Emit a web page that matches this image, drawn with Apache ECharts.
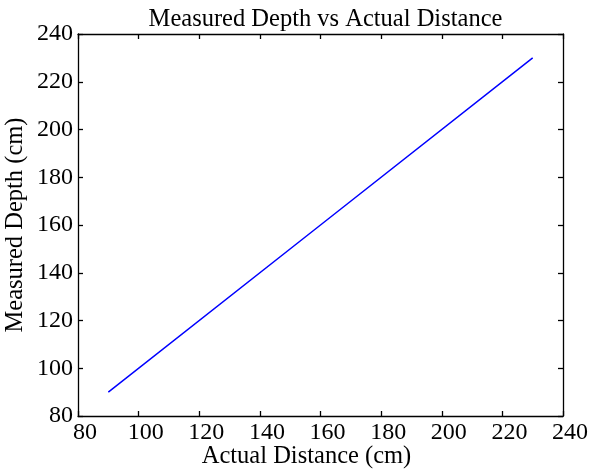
<!DOCTYPE html>
<html>
<head>
<meta charset="utf-8">
<script src="https://cdn.jsdelivr.net/npm/echarts@6/dist/echarts.min.js"></script>
<style>
html,body{margin:0;padding:0;background:#fff;}
#chart{width:592px;height:470px;}
</style>
</head>
<body>
<div id="chart"></div>
<script>
var actualDistance = [90, 160, 230];
var measuredDepth = [90, 160, 230];
var xTicks = [80, 100, 120, 140, 160, 180, 200, 220, 240];
var yTicks = [80, 100, 120, 140, 160, 180, 200, 220, 240];
var titleText = 'Measured Depth vs Actual Distance';
var xLabel = 'Actual Distance (cm)';
var yLabel = 'Measured Depth (cm)';

var FONT = 'Liberation Serif';
var chart = echarts.init(document.getElementById('chart'), null, {renderer: 'canvas'});
var lineStyle = {color: '#000', width: 1.3};
var tickStyle = {show: true, inside: true, length: 5, lineStyle: {color: '#000', width: 1.3}};
var pts = actualDistance.map(function (x, i) { return [x, measuredDepth[i]]; });

chart.setOption({
  animation: false,
  backgroundColor: '#fff',
  title: {
    text: titleText,
    left: 320.5,
    textAlign: 'center',
    top: 2,
    textStyle: {fontFamily: FONT, fontSize: 24.5, fontWeight: 'normal', color: '#000'}
  },
  grid: {left: 78, right: 29, top: 34, bottom: 54, containLabel: false, outerBoundsMode: 'none'},
  xAxis: [{
    type: 'value', min: xTicks[0], max: xTicks[xTicks.length - 1], interval: 20,
    position: 'bottom',
    axisLine: {show: true, lineStyle: lineStyle},
    axisTick: tickStyle,
    splitLine: {show: false},
    axisLabel: {fontFamily: FONT, fontSize: 24, color: '#000', margin: 5, padding: [0, 0, 0, 14]},
    name: xLabel, nameLocation: 'middle', nameGap: 28, nameMoveOverlap: false,
    nameTextStyle: {fontFamily: FONT, fontSize: 24.5, color: '#000', padding: [0, 28, 0, 0]}
  }, {
    type: 'value', min: xTicks[0], max: xTicks[xTicks.length - 1], interval: 20,
    position: 'top',
    axisLine: {show: true, lineStyle: lineStyle},
    axisTick: tickStyle,
    axisLabel: {show: false},
    splitLine: {show: false}
  }],
  yAxis: [{
    type: 'value', min: yTicks[0], max: yTicks[yTicks.length - 1], interval: 20,
    position: 'left',
    axisLine: {show: true, lineStyle: lineStyle},
    axisTick: tickStyle,
    splitLine: {show: false},
    axisLabel: {fontFamily: FONT, fontSize: 24, color: '#000', margin: 5, padding: [0, 0, 5, 0]},
    name: yLabel, nameLocation: 'middle', nameGap: 50, nameMoveOverlap: false,
    nameTextStyle: {fontFamily: FONT, fontSize: 24.5, color: '#000'}
  }, {
    type: 'value', min: yTicks[0], max: yTicks[yTicks.length - 1], interval: 20,
    position: 'right',
    axisLine: {show: true, lineStyle: lineStyle},
    axisTick: tickStyle,
    axisLabel: {show: false},
    splitLine: {show: false}
  }],
  series: [{
    type: 'line',
    data: pts,
    xAxisIndex: 0, yAxisIndex: 0,
    showSymbol: false,
    symbol: 'none',
    lineStyle: {color: '#0000ff', width: 1.5},
    z: 3
  }]
});
</script>
</body>
</html>
